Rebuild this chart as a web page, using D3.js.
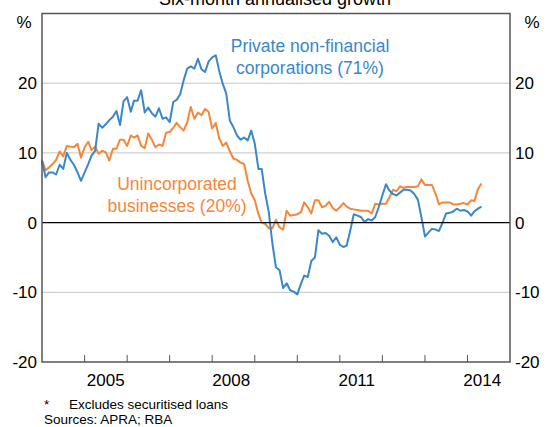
<!DOCTYPE html>
<html>
<head>
<meta charset="utf-8">
<script src="https://cdn.jsdelivr.net/npm/d3@7"></script>
<style>
  html, body { margin: 0; padding: 0; background: #fff; }
  svg { display: block; font-family: Arial, "Liberation Sans", sans-serif; }
</style>
</head>
<body>
<div id="chart"></div>
<script>
// Business credit growth, six-month annualised, monthly from Jan 2004
const startYear = 2004;
const corporations = [
  8.9, 6.5, 7.2, 7.2, 6.9, 8.3, 7.7, 10.0, 9.0, 8.3, 7.2, 6.0,
  7.2, 8.4, 9.6, 10.3, 14.2, 13.6, 14.1, 14.7, 15.2, 16.0, 14.0, 17.4,
  18.0, 15.9, 17.5, 17.5, 19.0, 15.8, 16.5, 15.7, 15.2, 16.4, 14.9, 15.1,
  14.4, 17.3, 17.6, 18.4, 20.4, 22.1, 22.4, 22.1, 23.5, 22.0, 21.6, 23.1,
  23.7, 24.0, 21.8, 19.9, 18.5, 14.6, 13.7, 12.5, 11.9, 12.2, 11.8, 13.2,
  11.3, 7.7, 7.7, 4.1, 1.5, -3.0, -6.4, -6.8, -9.4, -8.7, -9.7, -9.9,
  -10.3, -8.8, -7.6, -7.8, -5.5, -5.0, -1.1, -1.6, -1.5, -1.9, -2.8, -2.1,
  -3.2, -3.5, -3.3, -1.1, 1.2, 1.0, 0.8, 0.1, 0.5, 0.3, 0.8, 2.2,
  3.9, 5.5, 4.6, 4.1, 3.9, 4.3, 4.7, 4.7, 4.6, 4.1, 3.3, 0.8,
  -2.0, -1.4, -0.9, -1.0, -1.2, 0.0, 1.3, 1.4, 1.6, 2.0, 1.7, 1.8,
  1.6, 1.0, 1.6, 2.0, 2.3
];
const unincorporated = [
  8.9, 7.5, 7.9, 8.4, 9.0, 10.2, 9.5, 11.0, 10.9, 10.8, 11.3, 9.3,
  10.8, 11.6, 10.4, 10.9, 9.9, 10.3, 10.1, 8.9, 10.6, 10.6, 11.9, 11.9,
  11.0, 12.5, 12.2, 12.5, 11.0, 10.7, 12.8, 11.9, 10.8, 11.2, 11.0, 12.9,
  13.0, 13.6, 14.3, 13.7, 13.2, 14.4, 16.6, 14.9, 15.8, 15.4, 16.3, 15.9,
  13.5, 14.3, 12.1, 11.0, 11.5, 10.2, 9.2, 9.0, 8.6, 8.4, 6.0, 4.2,
  3.2, 1.2, 0.0, -0.2, -0.8, -0.8, 0.4, -0.7, -1.0, 1.7, 1.0, 1.1,
  1.2, 1.5, 2.9, 2.2, 1.3, 3.2, 3.2, 2.2, 2.4, 3.0, 2.1, 1.7,
  2.2, 2.8, 2.3, 2.0, 1.9, 1.8, 1.7, 1.7, 1.7, 1.3, 2.7, 2.6,
  2.7, 2.7, 3.6, 4.7, 4.5, 5.2, 5.0, 5.1, 5.1, 5.1, 5.2, 6.2,
  5.4, 5.4, 5.4, 4.2, 2.6, 2.9, 2.9, 2.9, 2.6, 2.6, 2.7, 2.8,
  2.6, 3.2, 3.1, 4.8, 5.6
];
const yTicks = [-20, -10, 0, 10, 20];
const yearTicks = d3.range(2005, 2015);
const yearLabels = [2005, 2008, 2011, 2014];

const W = 550, H = 427;
const m = { top: 13.5, right: 40, bottom: 65, left: 42 };
const blue = '#3a87c9', orange = '#f5863a';

const svg = d3.select('#chart').append('svg').attr('width', W).attr('height', H);

const x = d3.scaleTime()
  .domain([new Date(startYear, 0, 1), new Date(2015, 0, 1)])
  .range([m.left, W - m.right]);
const y = d3.scaleLinear().domain([-20, 30]).range([H - m.bottom, m.top]);

// title, cut off at the top of the frame as in the original
svg.append('text').attr('x', 275).attr('y', 5).attr('text-anchor', 'middle')
  .attr('font-size', 18).attr('fill', '#000').text('Six-month annualised growth');

// gridlines
svg.append('g').selectAll('line').data(yTicks.filter(d => d !== 0 && d !== -20)).enter().append('line')
  .attr('x1', m.left).attr('x2', W - m.right)
  .attr('y1', d => y(d)).attr('y2', d => y(d))
  .attr('stroke', '#c4c4c4').attr('stroke-width', 1);

// year ticks along the bottom, pointing in
svg.append('g').selectAll('line').data(yearTicks).enter().append('line')
  .attr('x1', d => x(new Date(d, 0, 1))).attr('x2', d => x(new Date(d, 0, 1)))
  .attr('y1', y(-20)).attr('y2', y(-20) - 7)
  .attr('stroke', '#555').attr('stroke-width', 1);

const line = d3.line()
  .x((d, i) => x(new Date(startYear, i, 1)))
  .y(d => y(d));

svg.append('path').datum(unincorporated).attr('d', line)
  .attr('fill', 'none').attr('stroke', orange).attr('stroke-width', 2).attr('stroke-linejoin', 'round');
svg.append('path').datum(corporations).attr('d', line)
  .attr('fill', 'none').attr('stroke', blue).attr('stroke-width', 2).attr('stroke-linejoin', 'round');

// zero line
svg.append('line').attr('x1', m.left).attr('x2', W - m.right)
  .attr('y1', y(0)).attr('y2', y(0)).attr('stroke', '#000').attr('stroke-width', 1.2);

// frame
svg.append('rect').attr('x', m.left).attr('y', m.top)
  .attr('width', W - m.right - m.left).attr('height', y(-20) - m.top)
  .attr('fill', 'none').attr('stroke', '#555').attr('stroke-width', 1.5);

// y labels on both sides
const yl = svg.append('g').attr('font-size', 17).attr('fill', '#000');
yl.selectAll('text.l').data(yTicks).enter().append('text').attr('class', 'l')
  .attr('x', m.left - 5).attr('y', d => y(d)).attr('dy', '0.35em').attr('text-anchor', 'end').text(d => d);
yl.selectAll('text.r').data(yTicks).enter().append('text').attr('class', 'r')
  .attr('x', W - m.right + 5).attr('y', d => y(d)).attr('dy', '0.35em').attr('text-anchor', 'start').text(d => d);
yl.append('text').attr('x', 24).attr('y', 28).attr('text-anchor', 'middle').text('%');
yl.append('text').attr('x', 532).attr('y', 28).attr('text-anchor', 'middle').text('%');

// x labels centred on the year
svg.append('g').selectAll('text').data(yearLabels).enter().append('text')
  .attr('x', d => x(new Date(d, 6, 1)) - (d - 2005) * 0.7).attr('y', y(-20) + 24)
  .attr('text-anchor', 'middle').attr('font-size', 17).text(d => d);

// series labels
const lab = (lines, cx, cy, col) => {
  lines.forEach((t, i) => svg.append('text').attr('x', cx).attr('y', cy + i * 22)
    .attr('text-anchor', 'middle').attr('font-size', 17.5).attr('fill', col).text(t));
};
lab(['Private non-financial', 'corporations (71%)'], 310, 52, blue);
lab(['Unincorporated', 'businesses (20%)'], 177, 190, orange);

// notes
const notes = svg.append('g').attr('font-size', 13.5).attr('fill', '#000');
notes.append('text').attr('x', 44).attr('y', 409).text('*');
notes.append('text').attr('x', 69).attr('y', 409).text('Excludes securitised loans');
notes.append('text').attr('x', 44).attr('y', 424).text('Sources: APRA; RBA');
</script>
</body>
</html>
